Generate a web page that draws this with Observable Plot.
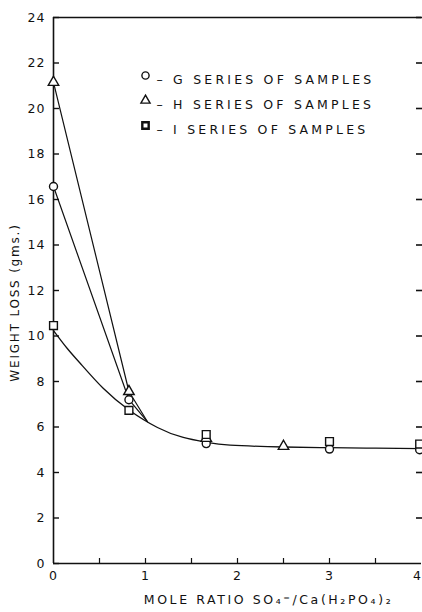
<!DOCTYPE html>
<html><head><meta charset="utf-8">
<script src="https://cdn.jsdelivr.net/npm/d3@7"></script>
<script src="https://cdn.jsdelivr.net/npm/@observablehq/plot@0.6"></script>
<style>
body{margin:0;background:#fff}
svg{display:block}
</style>
</head><body><div id="chart"></div>
<script>
// G series (circles)
const gX = [0, 0.82, 1.66, 3.0, 3.98];
const gY = [16.57, 7.2, 5.27, 5.03, 5.0];
// H series (triangles)
const hX = [0, 0.82, 1.66, 2.5];
const hY = [21.15, 7.56, 5.5, 5.15];
// I series (squares)
const iX = [0, 0.82, 1.66, 3.0, 3.98];
const iY = [10.46, 6.73, 5.67, 5.36, 5.25];
// drawn curves
const fitX = [0, 0.15, 0.29, 0.54, 0.82, 1.13, 1.41, 1.67, 1.92, 2.5, 3.0, 3.5, 4.0];
const fitY = [10.24, 9.45, 8.8, 7.7, 6.75, 5.98, 5.54, 5.32, 5.2, 5.12, 5.09, 5.07, 5.05];
const gLineX = [0, 0.82, 1.02];
const gLineY = [16.57, 7.2, 6.24];
const hLineX = [0, 0.82, 1.02];
const hLineY = [21.15, 7.56, 6.24];
// ticks
const yTicks = [0, 2, 4, 6, 8, 10, 12, 14, 16, 18, 20, 22, 24];
const xLabels = [0, 1, 2, 3];
const xLastLabel = [4];
const xMinor = [0.5, 1, 1.5, 2, 2.5, 3, 3.5];
// legend
const legendSymbols = ["circle", "triangle", "square"];
const legendLabels = ["– G SERIES OF SAMPLES", "– H SERIES OF SAMPLES", "– I SERIES OF SAMPLES"];
const xTitle = "MOLE RATIO SO₄⁼/Ca(H₂PO₄)₂";
const yTitle = "WEIGHT LOSS (gms.)";

const pts = (xs, ys) => xs.map((x, k) => ({x, y: ys[k]}));
const G = pts(gX, gY), H = pts(hX, hY), I = pts(iX, iY);
const fit = pts(fitX, fitY), gl = pts(gLineX, gLineY), hl = pts(hLineX, hLineY);

const font = "'DejaVu Sans', sans-serif";
const plot = Plot.plot({
  width: 422, height: 612,
  marginLeft: 53, marginRight: 1, marginTop: 17, marginBottom: 49,
  style: {fontFamily: font, fontSize: "12px", color: "#111", background: "#fff"},
  x: {domain: [0, 4], axis: null},
  y: {domain: [0, 24], axis: null},
  marks: [
    Plot.ruleY([0], {stroke: "#111", strokeWidth: 1.6}),
    Plot.ruleY([24], {stroke: "#111", strokeWidth: 1.4}),
    Plot.ruleX([0], {stroke: "#111", strokeWidth: 1.6}),
    Plot.axisY(yTicks, {anchor: "left", label: null, tickSize: 0, tickPadding: 8, fontSize: 12.5}),
    Plot.axisY(yTicks, {anchor: "left", label: null, tickSize: -6, tickFormat: () => "", strokeWidth: 1.4}),
    Plot.axisY(yTicks.slice(1), {anchor: "right", label: null, tickSize: -6, tickFormat: () => "", strokeWidth: 1.6}),
    Plot.axisX(xLabels, {anchor: "bottom", label: null, tickSize: 0, tickPadding: 8, fontSize: 12.5}),
    Plot.axisX(xLastLabel, {anchor: "bottom", label: null, tickSize: 0, tickPadding: 8, fontSize: 12.5, dx: -4}),
    Plot.axisX(xMinor, {anchor: "bottom", label: null, tickSize: -5, tickFormat: () => "", strokeWidth: 1.2}),
    Plot.line(fit, {x: "x", y: "y", curve: "natural", stroke: "#111", strokeWidth: 1.3}),
    Plot.line(gl, {x: "x", y: "y", stroke: "#111", strokeWidth: 1.2}),
    Plot.line(hl, {x: "x", y: "y", stroke: "#111", strokeWidth: 1.2}),
    Plot.dot(G, {x: "x", y: "y", symbol: "circle", r: 4, stroke: "#111", fill: "#fff", strokeWidth: 1.4}),
    Plot.dot(H, {x: "x", y: "y", symbol: "triangle", r: 3.9, stroke: "#111", fill: "#fff", strokeWidth: 1.4}),
    Plot.dot(I, {x: "x", y: "y", symbol: "square", r: 4.4, stroke: "#111", fill: "#fff", strokeWidth: 1.4}),
    ...legendSymbols.map((s, k) => Plot.dot([s], {symbol: s, frameAnchor: "top-left", dx: 92, dy: 58 + 25 * k, r: k === 1 ? 3.4 : 3.6, stroke: "#111", fill: "none", strokeWidth: k === 2 ? 2.4 : 1.4})),
    ...legendLabels.map((t, k) => Plot.text([t], {text: d => d, frameAnchor: "top-left", dx: 103, dy: 58 + 25 * k, textAnchor: "start", fontSize: 12.5, fill: "#111"})),
    Plot.text([xTitle], {text: d => d, frameAnchor: "bottom", textAnchor: "middle", dx: 31, dy: 40, fontSize: 12.5, fill: "#111"}),
    Plot.text([yTitle], {text: d => d, frameAnchor: "left", textAnchor: "middle", rotate: -90, dx: -38, dy: 12, fontSize: 12, fill: "#111"})
  ]
});
document.getElementById("chart").appendChild(plot);
d3.select(plot).selectAll("text").each(function() {
  const t = this.textContent;
  if (t.includes("SERIES")) this.setAttribute("letter-spacing", "3.2");
  else if (t.includes("MOLE")) this.setAttribute("letter-spacing", "2.6");
  else if (t.includes("WEIGHT")) this.setAttribute("letter-spacing", "1.8");
  else this.setAttribute("letter-spacing", "1");
});
</script></body></html>
